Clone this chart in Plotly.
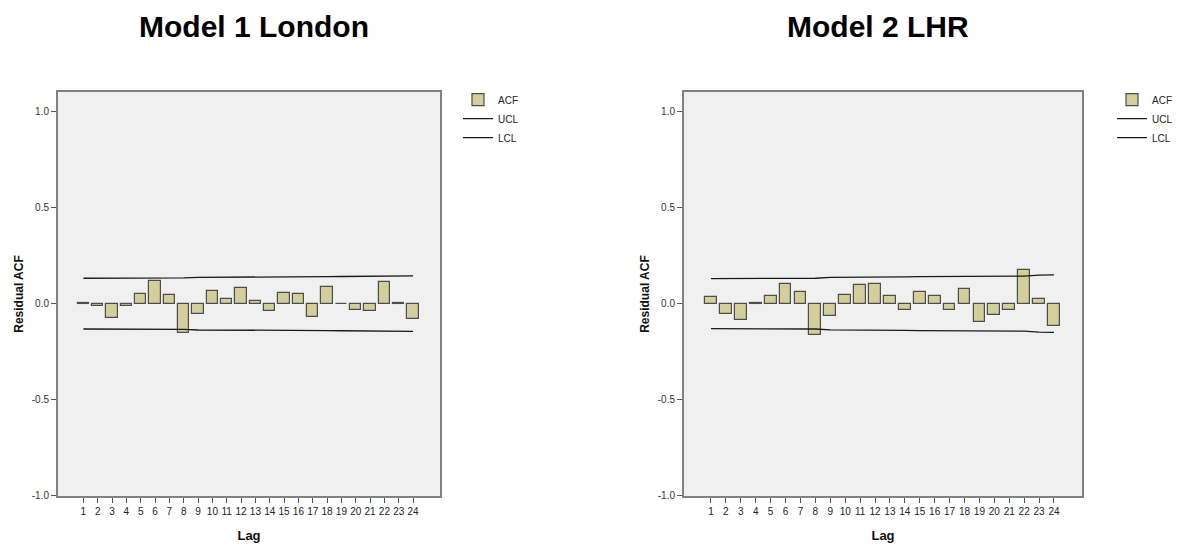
import plotly.graph_objects as go

lags = list(range(1, 25))

london_acf = [0.003, -0.014, -0.077, -0.010, 0.051, 0.117, 0.043, -0.154, -0.055, 0.063,
              0.026, 0.081, 0.014, -0.039, 0.053, 0.051, -0.070, 0.087, -0.003, -0.033,
              -0.036, 0.111, 0.003, -0.081]
london_ucl = [0.132, 0.132, 0.132, 0.133, 0.133, 0.133, 0.134, 0.134, 0.137, 0.137,
              0.138, 0.138, 0.138, 0.139, 0.139, 0.139, 0.140, 0.140, 0.141, 0.141,
              0.141, 0.142, 0.143, 0.144]
london_lcl = [-v for v in london_ucl]

lhr_acf = [0.033, -0.055, -0.087, 0.003, 0.038, 0.103, 0.060, -0.163, -0.063, 0.043,
           0.096, 0.101, 0.039, -0.033, 0.062, 0.038, -0.033, 0.075, -0.094, -0.058,
           -0.033, 0.175, 0.024, -0.118]
lhr_ucl = [0.130, 0.130, 0.131, 0.131, 0.131, 0.131, 0.132, 0.132, 0.136, 0.136,
           0.137, 0.138, 0.139, 0.139, 0.140, 0.140, 0.141, 0.141, 0.142, 0.143,
           0.143, 0.143, 0.148, 0.149]
lhr_lcl = [-v for v in lhr_ucl]

titles = ["Model 1 London", "Model 2 LHR"]

BAR_FILL = "#d4cf9a"
BAR_LINE = "#4d4d4d"
FONT = "Liberation Sans, Arial, sans-serif"

fig = go.Figure()

panels = [
    (london_acf, london_ucl, london_lcl, "x", "y", "legend"),
    (lhr_acf, lhr_ucl, lhr_lcl, "x2", "y2", "legend2"),
]
for acf, ucl, lcl, xa, ya, lg in panels:
    fig.add_trace(go.Bar(x=lags, y=acf, name="ACF", width=0.79,
                         marker=dict(color=BAR_FILL, line=dict(color=BAR_LINE, width=1.2)),
                         xaxis=xa, yaxis=ya, legend=lg))
    fig.add_trace(go.Scatter(x=lags, y=ucl, name="UCL", mode="lines",
                             line=dict(color="#1a1a1a", width=1.3),
                             xaxis=xa, yaxis=ya, legend=lg))
    fig.add_trace(go.Scatter(x=lags, y=lcl, name="LCL", mode="lines",
                             line=dict(color="#1a1a1a", width=1.3),
                             xaxis=xa, yaxis=ya, legend=lg))

# The page body has a margin; keep the figure inside the window.
OFFX, OFFY = 8, 4
W, H = 1187 - 16, 551 - 16


def px(xp):
    return (xp - OFFX) / W


def py(yp):
    return 1 - (yp - OFFY) / H


ydom = [py(497.5), py(89)]

common_x = dict(tickmode="array", tickvals=lags, ticktext=[str(v) for v in lags],
                ticks="outside", ticklen=5, tickcolor="#555", showgrid=False,
                zeroline=False, showline=True, linecolor="#808080", linewidth=2,
                mirror=True, tickfont=dict(size=10, color="#222", family=FONT),
                title=dict(text="<b>Lag</b>", font=dict(size=13, color="#111", family=FONT),
                           standoff=17))
common_y = dict(range=[-1.0, 1.1], tickvals=[-1.0, -0.5, 0.0, 0.5, 1.0],
                ticktext=["-1.0", "-0.5", "0.0", "0.5", "1.0"],
                ticks="outside", ticklen=5, tickcolor="#555", showgrid=False,
                zeroline=False, showline=True, linecolor="#808080", linewidth=2,
                mirror=True, tickfont=dict(size=10, color="#333", family=FONT),
                title=dict(text="<b>Residual ACF</b>",
                           font=dict(size=12, color="#111", family=FONT), standoff=6))

legend_common = dict(font=dict(size=10, color="#222", family=FONT),
                     bgcolor="rgba(0,0,0,0)", tracegroupgap=0, itemwidth=30,
                     xanchor="left", yanchor="top", traceorder="normal")

fig.update_layout(
    width=W, height=H,
    margin=dict(l=0, r=0, t=0, b=0),
    paper_bgcolor="white",
    plot_bgcolor="#f0f0f0",
    font=dict(family=FONT),
    bargap=0,
    xaxis=dict(domain=[px(58), px(440)], range=[-0.77, 25.88], anchor="y", **common_x),
    yaxis=dict(domain=ydom, anchor="x", **common_y),
    xaxis2=dict(domain=[px(684), px(1082)], range=[-0.81, 25.88], anchor="y2", **common_x),
    yaxis2=dict(domain=ydom, anchor="x2", **common_y),
    legend=dict(x=px(458), y=py(82), **legend_common),
    legend2=dict(x=px(1112), y=py(82), **legend_common),
    annotations=[
        dict(text="<b>%s</b>" % titles[0], x=px(254), y=1.0,
             xref="paper", yref="paper", showarrow=False,
             font=dict(size=30, color="#000", family=FONT),
             xanchor="center", yanchor="top"),
        dict(text="<b>%s</b>" % titles[1], x=px(878), y=1.0,
             xref="paper", yref="paper", showarrow=False,
             font=dict(size=30, color="#000", family=FONT),
             xanchor="center", yanchor="top"),
    ],
)

fig.write_html("out.html")
